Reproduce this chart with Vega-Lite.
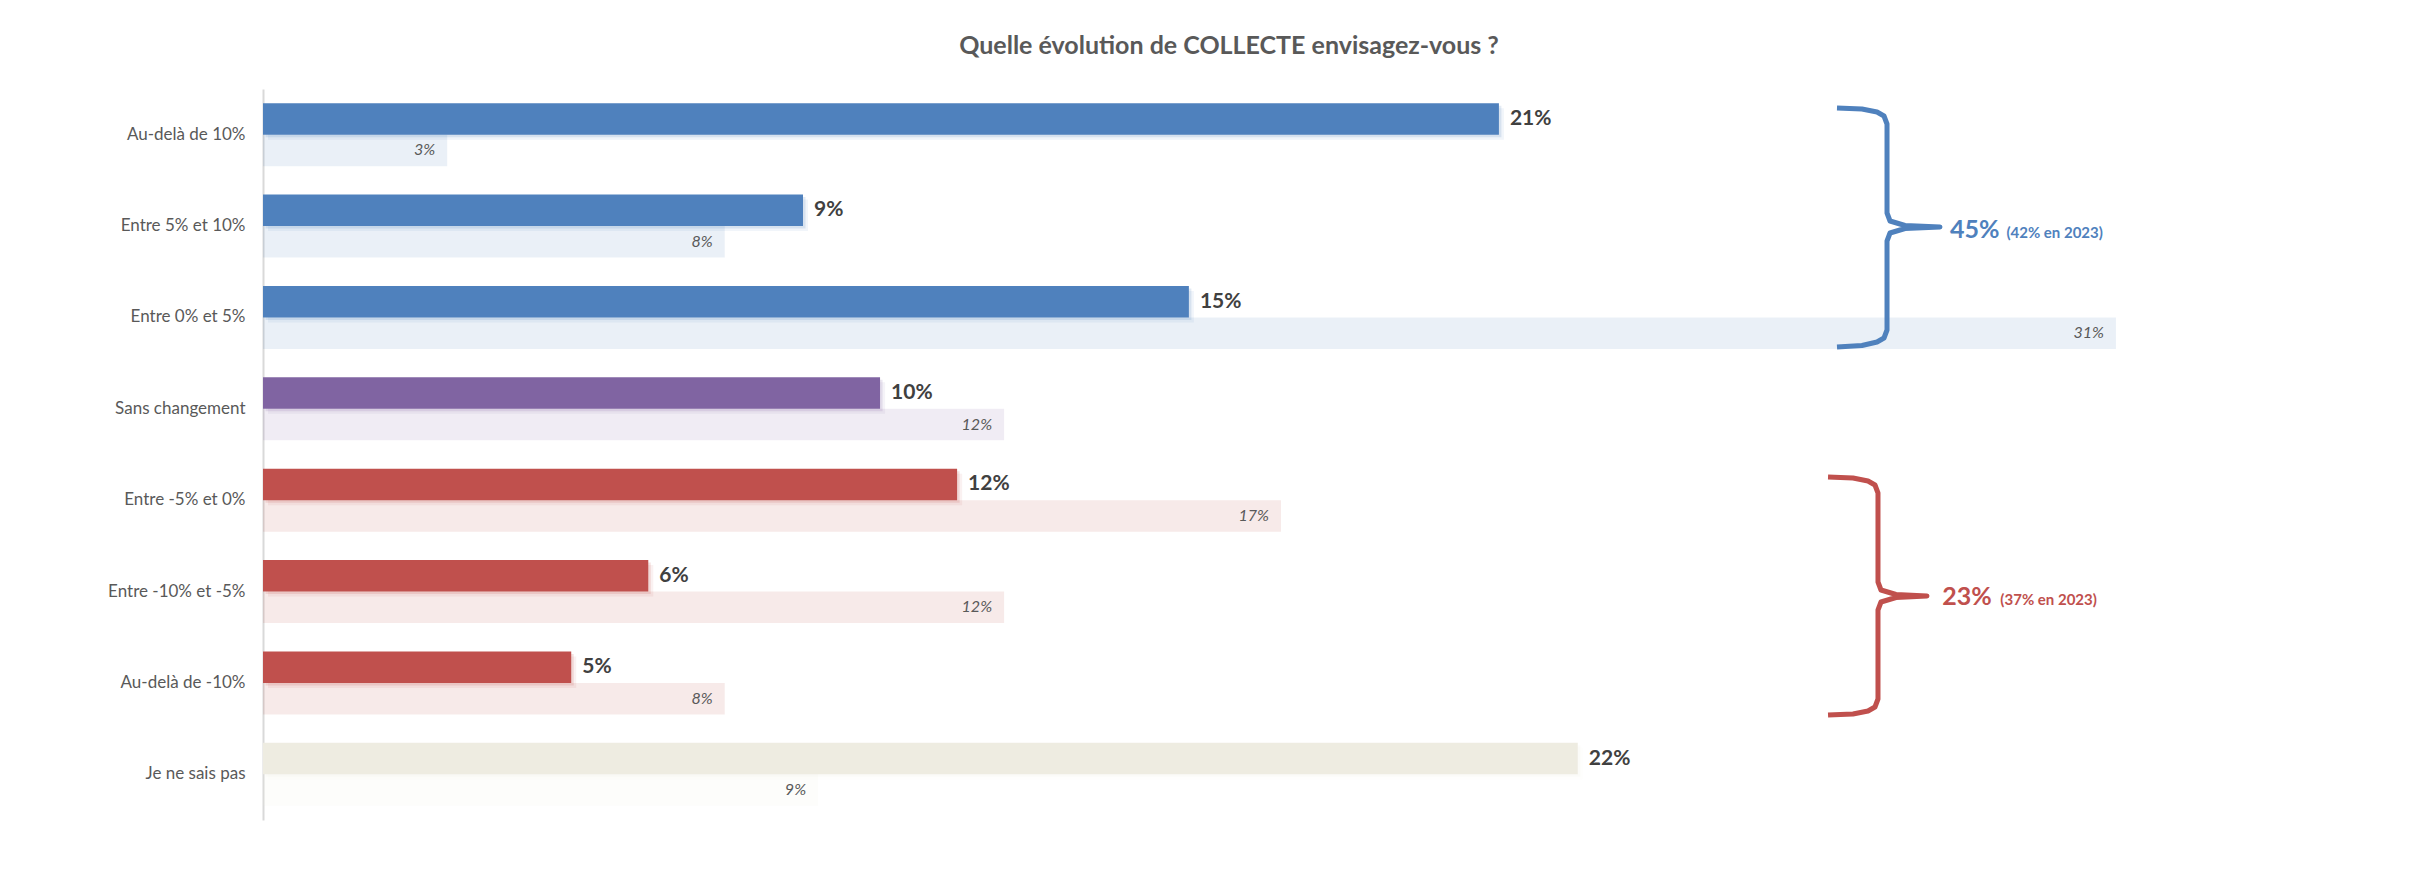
{
  "$schema": "https://vega.github.io/schema/vega-lite/v6.json",
  "width": 1932,
  "height": 731,
  "autosize": {"type": "none"},
  "padding": {"left": 263, "top": 89, "right": 230, "bottom": 52},
  "background": "white",
  "config": {"view": {"stroke": null}, "font": "Lato"},
  "title": {
    "text": "Quelle évolution de COLLECTE envisagez-vous ?",
    "anchor": "middle",
    "frame": "group",
    "font": "Lato",
    "fontSize": 25,
    "fontWeight": "bold",
    "color": "#595959",
    "offset": 30
  },
  "datasets": {
    "reponses": [
      {"categorie": "Au-delà de 10%", "tendance": "Hausse", "annee": "2024", "valeur": 0.2053},
      {"categorie": "Au-delà de 10%", "tendance": "Hausse", "annee": "2023", "valeur": 0.0306},
      {"categorie": "Entre 5% et 10%", "tendance": "Hausse", "annee": "2024", "valeur": 0.0897},
      {"categorie": "Entre 5% et 10%", "tendance": "Hausse", "annee": "2023", "valeur": 0.0767},
      {"categorie": "Entre 0% et 5%", "tendance": "Hausse", "annee": "2024", "valeur": 0.1538},
      {"categorie": "Entre 0% et 5%", "tendance": "Hausse", "annee": "2023", "valeur": 0.3078},
      {"categorie": "Sans changement", "tendance": "Stable", "annee": "2024", "valeur": 0.1025},
      {"categorie": "Sans changement", "tendance": "Stable", "annee": "2023", "valeur": 0.1231},
      {"categorie": "Entre -5% et 0%", "tendance": "Baisse", "annee": "2024", "valeur": 0.1153},
      {"categorie": "Entre -5% et 0%", "tendance": "Baisse", "annee": "2023", "valeur": 0.1691},
      {"categorie": "Entre -10% et -5%", "tendance": "Baisse", "annee": "2024", "valeur": 0.064},
      {"categorie": "Entre -10% et -5%", "tendance": "Baisse", "annee": "2023", "valeur": 0.1231},
      {"categorie": "Au-delà de -10%", "tendance": "Baisse", "annee": "2024", "valeur": 0.0512},
      {"categorie": "Au-delà de -10%", "tendance": "Baisse", "annee": "2023", "valeur": 0.0767},
      {"categorie": "Je ne sais pas", "tendance": "NSP", "annee": "2024", "valeur": 0.2184},
      {"categorie": "Je ne sais pas", "tendance": "NSP", "annee": "2023", "valeur": 0.0922}
    ],
    "accolades": [
      {"tendance": "Hausse", "ordre": 1, "x": 0.26146, "y": 0.2079},
      {"tendance": "Hausse", "ordre": 2, "x": 0.26561, "y": 0.2189},
      {"tendance": "Hausse", "ordre": 3, "x": 0.26811, "y": 0.2517},
      {"tendance": "Hausse", "ordre": 4, "x": 0.26927, "y": 0.2955},
      {"tendance": "Hausse", "ordre": 5, "x": 0.26977, "y": 0.383},
      {"tendance": "Hausse", "ordre": 6, "x": 0.26977, "y": 1.357},
      {"tendance": "Hausse", "ordre": 7, "x": 0.27027, "y": 1.4446},
      {"tendance": "Hausse", "ordre": 8, "x": 0.27276, "y": 1.4938},
      {"tendance": "Hausse", "ordre": 9, "x": 0.27857, "y": 1.5103},
      {"tendance": "Hausse", "ordre": 10, "x": 0.27276, "y": 1.5267},
      {"tendance": "Hausse", "ordre": 11, "x": 0.27027, "y": 1.5759},
      {"tendance": "Hausse", "ordre": 12, "x": 0.26977, "y": 1.6635},
      {"tendance": "Hausse", "ordre": 13, "x": 0.26977, "y": 2.6375},
      {"tendance": "Hausse", "ordre": 14, "x": 0.26927, "y": 2.725},
      {"tendance": "Hausse", "ordre": 15, "x": 0.26811, "y": 2.7688},
      {"tendance": "Hausse", "ordre": 16, "x": 0.26561, "y": 2.8071},
      {"tendance": "Hausse", "ordre": 17, "x": 0.26146, "y": 2.8235},
      {"tendance": "Baisse", "ordre": 1, "x": 0.25997, "y": 4.2462},
      {"tendance": "Baisse", "ordre": 2, "x": 0.26412, "y": 4.2572},
      {"tendance": "Baisse", "ordre": 3, "x": 0.26661, "y": 4.29},
      {"tendance": "Baisse", "ordre": 4, "x": 0.26777, "y": 4.3338},
      {"tendance": "Baisse", "ordre": 5, "x": 0.26827, "y": 4.4213},
      {"tendance": "Baisse", "ordre": 6, "x": 0.26827, "y": 5.3953},
      {"tendance": "Baisse", "ordre": 7, "x": 0.26877, "y": 5.4829},
      {"tendance": "Baisse", "ordre": 8, "x": 0.27126, "y": 5.5321},
      {"tendance": "Baisse", "ordre": 9, "x": 0.27641, "y": 5.5486},
      {"tendance": "Baisse", "ordre": 10, "x": 0.27126, "y": 5.565},
      {"tendance": "Baisse", "ordre": 11, "x": 0.26877, "y": 5.6142},
      {"tendance": "Baisse", "ordre": 12, "x": 0.26827, "y": 5.7018},
      {"tendance": "Baisse", "ordre": 13, "x": 0.26827, "y": 6.6758},
      {"tendance": "Baisse", "ordre": 14, "x": 0.26777, "y": 6.7633},
      {"tendance": "Baisse", "ordre": 15, "x": 0.26661, "y": 6.8071},
      {"tendance": "Baisse", "ordre": 16, "x": 0.26412, "y": 6.8399},
      {"tendance": "Baisse", "ordre": 17, "x": 0.25997, "y": 6.8509}
    ],
    "totaux": [
      {"tendance": "Hausse", "niveau": "principal", "texte": "45%", "x": 0.28023, "y": 1.6307},
      {"tendance": "Hausse", "niveau": "secondaire", "texte": "(42% en 2023)", "x": 0.2896, "y": 1.6307},
      {"tendance": "Baisse", "niveau": "principal", "texte": "23%", "x": 0.27895, "y": 5.647},
      {"tendance": "Baisse", "niveau": "secondaire", "texte": "(37% en 2023)", "x": 0.2886, "y": 5.647}
    ]
  },
  "layer": [
    {
      "data": {"name": "reponses"},
      "encoding": {
        "y": {
          "field": "categorie",
          "type": "nominal",
          "sort": ["Au-delà de 10%", "Entre 5% et 10%", "Entre 0% et 5%", "Sans changement", "Entre -5% et 0%", "Entre -10% et -5%", "Au-delà de -10%", "Je ne sais pas"],
          "scale": {"paddingInner": 0.3105, "paddingOuter": 0.1553},
          "title": null,
          "axis": {
            "ticks": false,
            "grid": false,
            "domainColor": "#D9D9D9",
            "domainWidth": 2,
            "labelFont": "Lato",
            "labelFontSize": 17,
            "labelColor": "#595959",
            "labelPadding": 18
          }
        },
        "x": {
          "field": "valeur",
          "type": "quantitative",
          "scale": {"domain": [0, 0.32093], "nice": false, "zero": true},
          "axis": null
        },
        "color": {
          "field": "tendance",
          "type": "nominal",
          "scale": {"domain": ["Hausse", "Stable", "Baisse", "NSP"], "range": ["#4F81BD", "#8064A2", "#C0504D", "#EEECE1"]},
          "legend": null
        }
      },
      "layer": [
        {
          "transform": [{"filter": "datum.annee === '2023'"}],
          "mark": {"type": "bar", "opacity": 0.12},
          "encoding": {
            "yOffset": {"field": "annee", "type": "nominal", "sort": ["2024", "2023"], "scale": {"domain": ["2024", "2023"], "paddingInner": 0, "paddingOuter": 0}}
          }
        },
        {
          "transform": [{"filter": "datum.annee === '2024'"}],
          "mark": {"type": "bar", "color": "#000000", "opacity": 0.08, "height": {"band": 0.5}, "xOffset": 5, "x2Offset": 5, "yOffset": -10.75}
        },
        {
          "transform": [{"filter": "datum.annee === '2024'"}],
          "mark": {"type": "bar", "color": "#000000", "opacity": 0.16, "height": {"band": 0.5}, "xOffset": 2.5, "x2Offset": 2.5, "yOffset": -13.25}
        },
        {
          "transform": [{"filter": "datum.annee === '2024'"}],
          "mark": {"type": "bar"},
          "encoding": {
            "yOffset": {"field": "annee", "type": "nominal", "sort": ["2024", "2023"], "scale": {"domain": ["2024", "2023"], "paddingInner": 0, "paddingOuter": 0}}
          }
        },
        {
          "transform": [{"filter": "datum.annee === '2024'"}],
          "mark": {"type": "text", "align": "left", "baseline": "middle", "dx": 11, "font": "Lato", "fontSize": 21, "fontWeight": "bold", "color": "#404040"},
          "encoding": {
            "yOffset": {"field": "annee", "type": "nominal", "sort": ["2024", "2023"], "scale": {"domain": ["2024", "2023"], "paddingInner": 0, "paddingOuter": 0}},
            "text": {"field": "valeur", "type": "quantitative", "format": ".0%"},
            "color": {"value": "#404040"}
          }
        },
        {
          "transform": [{"filter": "datum.annee === '2023'"}],
          "mark": {"type": "text", "align": "right", "baseline": "middle", "dx": -12, "font": "Lato", "fontSize": 16, "fontStyle": "italic", "color": "#595959"},
          "encoding": {
            "yOffset": {"field": "annee", "type": "nominal", "sort": ["2024", "2023"], "scale": {"domain": ["2024", "2023"], "paddingInner": 0, "paddingOuter": 0}},
            "text": {"field": "valeur", "type": "quantitative", "format": ".0%"},
            "color": {"value": "#595959"}
          }
        }
      ]
    },
    {
      "encoding": {
        "x": {
          "field": "x",
          "type": "quantitative",
          "scale": {"domain": [0, 0.32093], "nice": false, "zero": true},
          "axis": null
        },
        "y": {
          "field": "y",
          "type": "quantitative",
          "scale": {"domain": [0, 8], "reverse": true, "nice": false, "zero": false},
          "axis": null
        },
        "color": {
          "field": "tendance",
          "type": "nominal",
          "scale": {"domain": ["Hausse", "Stable", "Baisse", "NSP"], "range": ["#4F81BD", "#8064A2", "#C0504D", "#EEECE1"]},
          "legend": null
        }
      },
      "layer": [
        {
          "data": {"name": "accolades"},
          "mark": {"type": "line", "strokeWidth": 5, "strokeCap": "butt", "strokeJoin": "round"},
          "encoding": {
            "order": {"field": "ordre", "type": "quantitative"},
            "detail": {"field": "tendance", "type": "nominal"}
          }
        },
        {
          "data": {"name": "totaux"},
          "transform": [{"filter": "datum.niveau === 'principal'"}],
          "mark": {"type": "text", "align": "left", "baseline": "alphabetic", "font": "Lato", "fontSize": 25, "fontWeight": "bold"},
          "encoding": {"text": {"field": "texte", "type": "nominal"}}
        },
        {
          "data": {"name": "totaux"},
          "transform": [{"filter": "datum.niveau === 'secondaire'"}],
          "mark": {"type": "text", "align": "left", "baseline": "alphabetic", "font": "Lato", "fontSize": 15, "fontWeight": "bold"},
          "encoding": {"text": {"field": "texte", "type": "nominal"}}
        }
      ]
    }
  ],
  "resolve": {"scale": {"y": "independent"}}
}
